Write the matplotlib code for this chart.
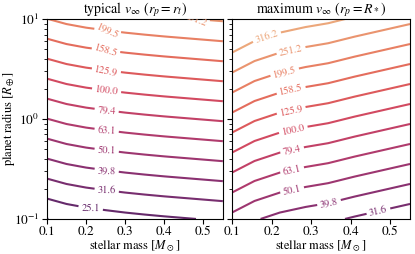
import numpy as np
import matplotlib.pyplot as plt
import seaborn as sns

plt.rcParams['font.family'] = 'serif'
plt.rcParams['font.serif'] = ['STIXGeneral', 'Liberation Serif', 'DejaVu Serif']
plt.rcParams['mathtext.fontset'] = 'stix'

# stellar mass grid and log10 of v_inf (km/s) for a 1 R_earth planet
masses_typ = [0.10, 0.15, 0.20, 0.25, 0.30, 0.35, 0.40, 0.45, 0.50, 0.55]
logv1_typ = [1.798, 1.825, 1.843, 1.856, 1.868, 1.878, 1.887, 1.895, 1.903, 1.911]

masses_max = [0.10, 0.157, 0.221, 0.286, 0.343, 0.41, 0.55]
logv1_max = [2.168, 2.110, 2.068, 2.040, 2.021, 1.988, 1.925]

# contour levels in log10(v)
level_exps = [1.3, 1.4, 1.5, 1.6, 1.7, 1.8, 1.9, 2.0, 2.1, 2.2, 2.3, 2.4, 2.5]

# planet radius grid (R_earth), v scales as sqrt(R)
log_radii = np.linspace(-1, 1, 201)
radii = 10 ** log_radii

titles = [r'typical $v_\infty$ ($r_p = r_t$)', r'maximum $v_\infty$ ($r_p = R_*$)']

# where the inline labels sit (mass, pixel row in the figure)
label_pos_typ = [(0.253, 31), (0.253, 49), (0.253, 69), (0.253, 89), (0.253, 109), (0.253, 128),
                 (0.253, 149), (0.253, 170), (0.253, 190), (0.212, 208), (0.473, 20)]
label_pos_max = [(0.188, 36.7), (0.249, 50), (0.232, 70), (0.249, 89.3), (0.249, 109.3),
                 (0.255, 130), (0.252, 150), (0.252, 170), (0.252, 190), (0.345, 202.3), (0.47, 211)]

fig = plt.figure(figsize=(4.15, 2.54), dpi=100)
ax1 = fig.add_axes([0.113, 0.138, 0.424, 0.787])
ax2 = fig.add_axes([0.559, 0.138, 0.429, 0.787], sharey=ax1)

panels = [(ax1, masses_typ, logv1_typ, label_pos_typ), (ax2, masses_max, logv1_max, label_pos_max)]
for i, (ax, m, lv, lpos) in enumerate(panels):
    field = np.array(lv)[None, :] + 0.5 * log_radii[:, None]
    cs = ax.contour(m, radii, field, levels=level_exps, cmap='flare_r',
                    vmin=1.25, vmax=2.55, linewidths=1.5)
    manual = [(mm, 10 ** (1 - (y - 19) / 100)) for mm, y in lpos]
    ax.clabel(cs, inline=True, fontsize=7.5, fmt=lambda x: '%.1f' % (10 ** x),
              manual=manual, inline_spacing=3)
    ax.set_yscale('log')
    ax.set_xlim(0.1, 0.55)
    ax.set_ylim(0.1, 10)
    ax.set_xticks([0.1, 0.2, 0.3, 0.4, 0.5])
    ax.tick_params(labelsize=9.5, pad=2)
    ax.set_xlabel(r'stellar mass [$M_\odot$]', fontsize=9, labelpad=0)
    ax.set_title(titles[i], fontsize=10, pad=2)

ax1.set_ylabel(r'planet radius [$R_\oplus$]', fontsize=9)
ax1.yaxis.set_label_coords(-0.17, 0.5)
plt.setp(ax2.get_yticklabels(), visible=False)

fig.savefig('out.png', dpi=100)
